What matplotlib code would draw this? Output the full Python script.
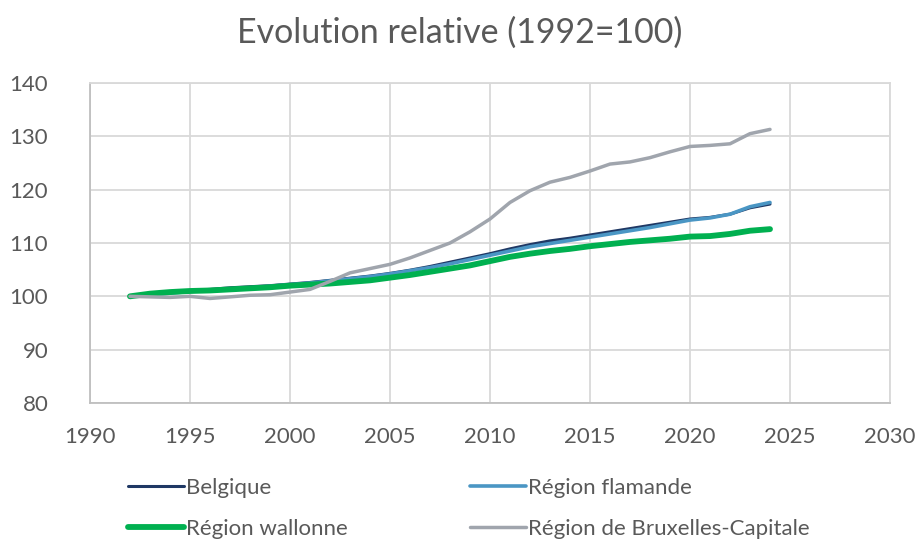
import numpy as np
import matplotlib
matplotlib.use("Agg")
import matplotlib.pyplot as plt

plt.rcParams['font.family'] = ['Lato', 'DejaVu Sans']

years = list(range(1992, 2025))

belgique = [100.0, 100.4, 100.8, 101.1, 101.3, 101.6, 101.8, 102.0, 102.3, 102.6,
            103.0, 103.4, 103.8, 104.3, 104.9, 105.6, 106.4, 107.2, 108.0, 108.9,
            109.7, 110.4, 110.9, 111.5, 112.1, 112.7, 113.3, 113.9, 114.5, 114.8,
            115.4, 116.6, 117.3]
flamande = [100.0, 100.3, 100.6, 100.9, 101.1, 101.4, 101.6, 101.9, 102.2, 102.5,
            102.9, 103.3, 103.7, 104.2, 104.8, 105.4, 106.1, 106.9, 107.7, 108.5,
            109.3, 109.9, 110.5, 111.1, 111.7, 112.3, 112.9, 113.6, 114.3, 114.7,
            115.4, 116.8, 117.6]
wallonne = [100.0, 100.5, 100.8, 101.0, 101.1, 101.3, 101.5, 101.7, 102.0, 102.2,
            102.4, 102.7, 103.0, 103.5, 104.0, 104.6, 105.2, 105.8, 106.6, 107.4,
            108.0, 108.5, 108.9, 109.4, 109.8, 110.2, 110.5, 110.8, 111.2, 111.3,
            111.7, 112.3, 112.6]
bruxelles = [100.0, 99.9, 99.8, 100.0, 99.6, 99.9, 100.2, 100.3, 100.8, 101.3,
             102.8, 104.4, 105.2, 106.0, 107.2, 108.6, 110.0, 112.1, 114.5, 117.6,
             119.8, 121.4, 122.3, 123.5, 124.8, 125.2, 126.0, 127.1, 128.1, 128.3,
             128.6, 130.5, 131.3]

labels = ["Belgique", "Région flamande", "Région wallonne", "Région de Bruxelles-Capitale"]
x_ticks = [1990, 1995, 2000, 2005, 2010, 2015, 2020, 2025, 2030]
y_ticks = [80, 90, 100, 110, 120, 130, 140]

txt = '#595959'
grid_c = '#D9D9D9'

fig = plt.figure(figsize=(9.2, 5.4), dpi=100)
ax = fig.add_axes([0.0978, 0.2537, 0.8696, 0.5926])

l1, = ax.plot(years, belgique, color='#1F3864', lw=2.2, solid_capstyle='round', zorder=3)
l2, = ax.plot(years, flamande, color='#4A96C4', lw=2.6, solid_capstyle='round', zorder=4)
l3, = ax.plot(years, wallonne, color='#00B050', lw=4.2, solid_capstyle='round', zorder=5)
l4, = ax.plot(years, bruxelles, color='#A0A5AD', lw=2.5, solid_capstyle='round', zorder=6)

ax.set_xlim(1990, 2030)
ax.set_ylim(80, 140)
ax.set_xticks(x_ticks)
ax.set_yticks(y_ticks)
ax.grid(True, color=grid_c, lw=1.3, zorder=0)
ax.tick_params(length=0, labelsize=16, colors=txt)
ax.tick_params(axis='x', pad=17)
ax.tick_params(axis='y', pad=30)
for s in ax.spines.values():
    s.set_color(grid_c)
    s.set_linewidth(1.3)
ax.spines['left'].set_color('#BFBFBF')
ax.spines['bottom'].set_color('#BFBFBF')

fig.text(0.5, 0.94, "Evolution relative (1992=100)", ha='center', va='center',
         fontsize=24.5, color=txt)

# matplotlib fills legend column by column
order = [0, 2, 1, 3]
handles = [l1, l2, l3, l4]
leg = fig.legend([handles[i] for i in order], [labels[i] for i in order], ncol=2,
                 loc='upper left', bbox_to_anchor=(0.130, 0.131),
                 bbox_transform=fig.transFigure,
                 frameon=False, fontsize=16, handlelength=2.5, handletextpad=0.1,
                 columnspacing=5.5, labelspacing=0.95, borderaxespad=0)
for t in leg.get_texts():
    t.set_color(txt)

fig.savefig("out.png", dpi=100)
